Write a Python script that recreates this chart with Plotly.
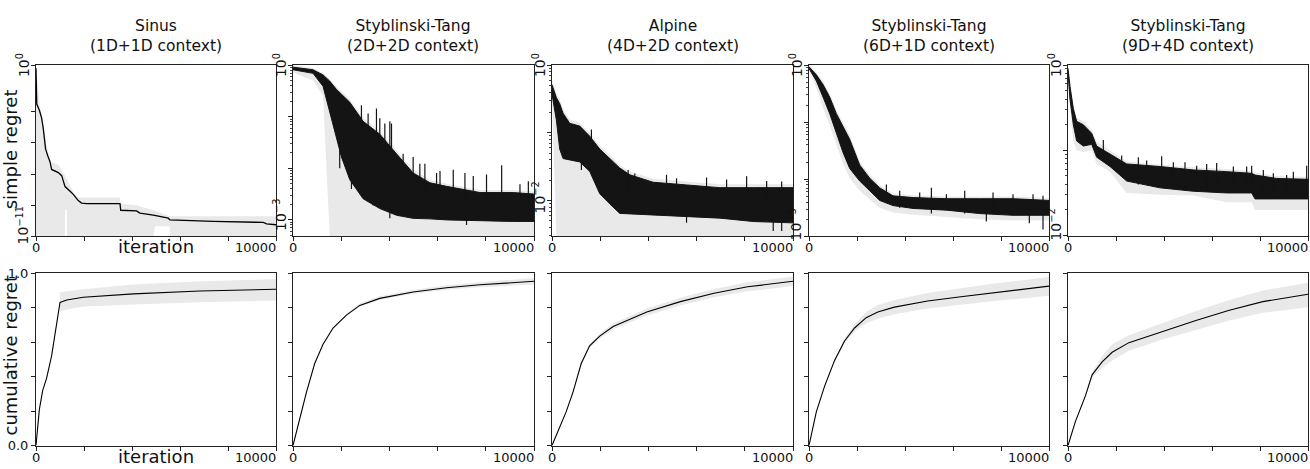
import numpy as np
import plotly.graph_objects as go

titles = ["Sinus<br>(1D+1D context)", "Styblinski-Tang<br>(2D+2D context)", "Alpine<br>(4D+2D context)",
          "Styblinski-Tang<br>(6D+1D context)", "Styblinski-Tang<br>(9D+4D context)"]

# simple regret, stored as log10(regret)
# panel 1: single line + std band
s1_it = [0, 30, 140, 236, 305, 400, 486, 583, 650, 930, 1070, 1210, 1420, 1555, 1760, 1900, 2110, 3500, 3530,
         4190, 4330, 4890, 5510, 5580, 7390, 9470, 9610, 10000]
s1_val = [-0.2, -2.5, -2.9, -3.4, -4.1, -5.4, -5.8, -6.2, -6.7, -6.9, -7.1, -7.8, -8.1, -8.3, -8.7, -8.86, -8.9,
          -8.9, -9.32, -9.36, -9.5, -9.63, -9.83, -9.94, -10.04, -10.1, -10.19, -10.25]
g1_it = [0, 140, 400, 583, 930, 1200, 1210, 1280, 1290, 1560, 1760, 3500, 3530, 4190, 4890, 4960, 5570, 5580, 7390, 10000]
g1_hi = [0, -2.4, -4.8, -6.2, -6.4, -7.0, -7.1, -7.3, -7.3, -8.2, -8.5, -8.5, -8.9, -9.0, -9.3, -9.35, -9.7, -9.7, -9.7, -9.7]
g1_lo = [-11, -11, -11, -11, -11, -11, -9.3, -9.3, -11, -11, -11, -11, -11, -11, -11, -10.35, -10.35, -11, -11, -11]

# panels 2-5: envelope of the noisy mean line (hi/lo), std band (ghi/glo), single spikes (top/base)
it2 = [0, 831, 1246, 1523, 1800, 2010, 2356, 2909, 3602, 4295, 4985, 5680, 6373, 7757, 9140, 10000]
hi2 = [-0.04, -0.09, -0.19, -0.31, -0.47, -0.56, -0.72, -1.09, -1.34, -1.72, -2.09, -2.28, -2.35, -2.47, -2.47, -2.5]
lo2 = [-0.09, -0.16, -0.41, -0.91, -1.41, -1.78, -2.22, -2.59, -2.78, -2.91, -2.97, -2.98, -3.0, -3.02, -3.03, -3.03]
ghi2 = [0, -0.06, -0.15, -0.27, -0.42, -0.5, -0.66, -1.02, -1.28, -1.66, -2.03, -2.22, -2.3, -2.42, -2.42, -2.45]
glo2 = [-0.15, -0.3, -0.6, -3.32, -3.32, -3.32, -3.32, -3.32, -3.32, -3.32, -3.32, -3.32, -3.32, -3.32, -3.32, -3.32]
sp2_it = [2840, 3117, 3463, 3602, 3810, 4018, 4087, 4570, 4985, 5263, 5472, 5957, 6100, 6650, 7134, 7480, 8030,
          8658, 9418, 9765, 1938, 2425, 3325, 4018, 7200]
sp2_top = [-0.78, -0.94, -0.84, -1.03, -1.13, -1.09, -1.13, -1.72, -1.78, -1.91, -1.91, -2.09, -2.05, -2.03, -2.09,
           -2.15, -2.12, -1.94, -2.31, -2.25, -1.5, -2.0, -2.5, -2.8, -2.9]
sp2_base = [-1.3, -1.4, -1.5, -1.5, -1.7, -1.9, -1.9, -2.2, -2.3, -2.4, -2.5, -2.6, -2.6, -2.7, -2.7, -2.7, -2.7,
            -2.7, -2.7, -2.7, -2.0, -2.4, -2.72, -2.97, -3.1]

it3 = [0, 181, 320, 458, 735, 1150, 1566, 1981, 2397, 2812, 3228, 4197, 5582, 6967, 8352, 10000]
hi3 = [-0.29, -0.48, -0.57, -0.71, -0.86, -0.9, -1.05, -1.24, -1.38, -1.52, -1.62, -1.73, -1.77, -1.81, -1.81, -1.81]
lo3 = [-0.43, -0.81, -1.24, -1.38, -1.40, -1.43, -1.57, -1.9, -2.05, -2.19, -2.2, -2.21, -2.24, -2.26, -2.31, -2.33]
ghi3 = [-0.22, -0.42, -0.51, -0.65, -0.8, -0.85, -1.0, -1.19, -1.33, -1.47, -1.57, -1.68, -1.72, -1.76, -1.76, -1.76]
glo3 = [-0.5, -2.53, -2.53, -2.53, -2.53, -2.53, -2.53, -2.53, -2.53, -2.53, -2.53, -2.53, -2.53, -2.53, -2.53, -2.53]
sp3_it = [1635, 3158, 3435, 4752, 5168, 6413, 7245, 8075, 8907, 9530, 1220, 5582, 9180]
sp3_top = [-0.95, -1.55, -1.6, -1.62, -1.67, -1.66, -1.69, -1.64, -1.71, -1.72, -1.3, -2.0, -2.1]
sp3_base = [-1.4, -1.9, -2.0, -2.0, -2.0, -2.0, -2.0, -2.0, -2.0, -2.45, -1.55, -2.33, -2.45]

it4 = [0, 307, 584, 862, 1140, 1417, 1696, 2113, 2529, 2946, 3500, 4335, 5725, 7113, 8500, 10000]
hi4 = [-0.03, -0.17, -0.34, -0.56, -0.85, -1.07, -1.3, -1.75, -1.98, -2.15, -2.29, -2.32, -2.34, -2.34, -2.34, -2.37]
lo4 = [-0.06, -0.28, -0.56, -0.85, -1.19, -1.53, -1.81, -2.03, -2.2, -2.37, -2.46, -2.51, -2.54, -2.6, -2.63, -2.63]
ghi4 = [0, -0.12, -0.28, -0.5, -0.78, -1.0, -1.22, -1.68, -1.92, -2.1, -2.25, -2.28, -2.3, -2.3, -2.3, -2.33]
glo4 = [-0.1, -0.4, -0.75, -1.05, -1.4, -1.72, -1.98, -2.2, -2.35, -2.5, -2.58, -2.62, -2.66, -2.7, -2.72, -2.72]
sp4_it = [3224, 3780, 4612, 5099, 5725, 6488, 7668, 8500, 9335, 9750, 7390, 9180]
sp4_top = [-2.09, -2.2, -2.23, -2.15, -2.26, -2.2, -2.23, -2.26, -2.26, -2.29, -2.5, -2.5]
sp4_base = [-2.4, -2.5, -2.5, -2.6, -2.5, -2.6, -2.6, -2.6, -2.6, -2.88, -2.74, -2.77]

it5 = [0, 83, 222, 361, 639, 986, 1194, 1750, 2444, 3833, 5222, 6611, 7653, 7792, 8694, 10000]
hi5 = [-0.04, -0.25, -0.51, -0.66, -0.70, -0.8, -0.95, -1.04, -1.16, -1.19, -1.23, -1.25, -1.27, -1.29, -1.33, -1.34]
lo5 = [-0.09, -0.4, -0.7, -0.89, -0.95, -0.93, -1.08, -1.19, -1.36, -1.44, -1.48, -1.5, -1.5, -1.57, -1.57, -1.57]
ghi5 = [0, -0.2, -0.46, -0.62, -0.66, -0.76, -0.9, -1.0, -1.13, -1.17, -1.2, -1.22, -1.24, -1.26, -1.3, -1.31]
glo5 = [-0.17, -0.51, -0.89, -1.0, -1.02, -1.0, -1.16, -1.25, -1.5, -1.52, -1.53, -1.61, -1.61, -1.70, -1.70, -1.70]
sp5_it = [1472, 2236, 2931, 3278, 3903, 4389, 4875, 5361, 5778, 6194, 6889, 7444, 7653, 8139, 8556, 9111, 9389, 9944]
sp5_top = [-0.88, -1.06, -1.08, -1.12, -1.07, -1.14, -1.14, -1.18, -1.16, -1.15, -1.19, -1.19, -1.18, -1.23, -1.27,
           -1.29, -1.25, -1.18]
sp5_base = [-1.1, -1.3, -1.4, -1.4, -1.4, -1.45, -1.45, -1.45, -1.45, -1.45, -1.45, -1.45, -1.45, -1.5, -1.5, -1.5,
            -1.5, -1.5]

# y range (log10) and tick decades of each simple-regret panel
ylow = [-11, -3.32, -2.53, -3.0, -2.01]
ydecades = [[0, -3, -5, -7, -9, -11], [0, -1, -2, -3], [0, -1, -2], [0, -1, -2, -3], [0, -1, -2]]
ylab_low = [-11, -3, -2, -3, -2]

# cumulative regret (normalised)
c1_it = [0, 140, 280, 440, 650, 790, 1000, 1280, 1970, 4060, 6830, 10000]
c1 = [0, 0.21, 0.32, 0.39, 0.52, 0.64, 0.83, 0.845, 0.86, 0.88, 0.897, 0.907]
b1_it = [1000, 1280, 1970, 4060, 6830, 10000]
b1_hi = [0.888, 0.895, 0.907, 0.935, 0.953, 0.966]
b1_lo = [0.776, 0.79, 0.807, 0.819, 0.832, 0.841]

c2_it = [0, 277, 554, 900, 1247, 1662, 2216, 2770, 3600, 4986, 6371, 7756, 10000]
c2 = [0, 0.157, 0.307, 0.476, 0.588, 0.682, 0.757, 0.813, 0.854, 0.891, 0.916, 0.933, 0.953]
c2_hi = [0, 0.16, 0.31, 0.48, 0.59, 0.687, 0.762, 0.825, 0.866, 0.903, 0.93, 0.948, 0.972]
c2_lo = [0, 0.154, 0.304, 0.472, 0.585, 0.678, 0.752, 0.805, 0.845, 0.881, 0.904, 0.919, 0.935]

c3_it = [0, 307, 586, 865, 1213, 1562, 1980, 2538, 3933, 5328, 6722, 8117, 10000]
c3 = [0, 0.101, 0.195, 0.307, 0.476, 0.579, 0.635, 0.691, 0.775, 0.835, 0.884, 0.921, 0.953]
c3_hi = [0, 0.104, 0.2, 0.315, 0.486, 0.591, 0.65, 0.708, 0.795, 0.857, 0.908, 0.947, 0.981]
c3_lo = [0, 0.098, 0.19, 0.299, 0.466, 0.567, 0.62, 0.674, 0.755, 0.813, 0.86, 0.895, 0.925]

c4_it = [0, 305, 651, 1066, 1482, 1898, 2382, 2867, 3560, 4945, 6330, 7715, 10000]
c4 = [0, 0.195, 0.345, 0.494, 0.607, 0.682, 0.742, 0.775, 0.803, 0.839, 0.863, 0.888, 0.925]
c4_hi = [0, 0.2, 0.352, 0.505, 0.622, 0.705, 0.775, 0.815, 0.845, 0.885, 0.912, 0.94, 0.978]
c4_lo = [0, 0.19, 0.338, 0.483, 0.592, 0.66, 0.71, 0.735, 0.762, 0.795, 0.815, 0.838, 0.869]

c5_it = [0, 307, 725, 1004, 1423, 1841, 2538, 3933, 5328, 6722, 8117, 10000]
c5 = [0, 0.139, 0.288, 0.41, 0.485, 0.541, 0.597, 0.663, 0.725, 0.785, 0.835, 0.878]
c5_hi = [0, 0.142, 0.295, 0.425, 0.52, 0.588, 0.64, 0.71, 0.78, 0.845, 0.9, 0.944]
c5_lo = [0, 0.136, 0.28, 0.395, 0.45, 0.494, 0.55, 0.615, 0.67, 0.725, 0.77, 0.803]

xticks = [0, 2000, 4000, 6000, 8000, 10000]
yticks_cum = [0, 0.2, 0.4, 0.6, 0.8, 1.0]

W, H = 1310, 469
left_px = [36, 293, 552, 809, 1068]
right_px = [276, 534, 793, 1049, 1308]
GRAY = "#e9e9e9"
DARK = "#141414"
FONT = "DejaVu Sans"
TICK = 13

fig = go.Figure()


def ax(k):
    return ("x" if k == 1 else f"x{k}"), ("y" if k == 1 else f"y{k}")


def band(it, hi, lo, k, color, log=True, lw=0):
    xs = list(it) + list(it)[::-1]
    ys = list(hi) + list(lo)[::-1]
    if log:
        ys = list(np.power(10.0, ys))
    xa, ya = ax(k)
    fig.add_trace(go.Scatter(x=xs, y=ys, fill="toself", fillcolor=color, mode="lines",
                             line=dict(color=color, width=lw), xaxis=xa, yaxis=ya, hoverinfo="skip"))


def spikes(it, top, base, k):
    xs, ys = [], []
    for a, t, b in zip(it, top, base):
        xs += [a, a, None]
        ys += [10 ** t, 10 ** b, None]
    xa, ya = ax(k)
    fig.add_trace(go.Scatter(x=xs, y=ys, mode="lines", line=dict(color=DARK, width=1.2),
                             xaxis=xa, yaxis=ya, hoverinfo="skip"))


# top row
band(g1_it, g1_hi, g1_lo, 1, GRAY)
fig.add_trace(go.Scatter(x=s1_it, y=np.power(10.0, s1_val), mode="lines", line=dict(color="black", width=1.3),
                         xaxis="x", yaxis="y"))
panels = [(it2, hi2, lo2, ghi2, glo2, sp2_it, sp2_top, sp2_base),
          (it3, hi3, lo3, ghi3, glo3, sp3_it, sp3_top, sp3_base),
          (it4, hi4, lo4, ghi4, glo4, sp4_it, sp4_top, sp4_base),
          (it5, hi5, lo5, ghi5, glo5, sp5_it, sp5_top, sp5_base)]
for n, (it, hi, lo, ghi, glo, si, st, sb) in enumerate(panels):
    k = n + 2
    band(it, ghi, glo, k, GRAY)
    band(it, hi, lo, k, DARK, lw=1)
    spikes(si, st, sb, k)

# bottom row
cums = [(c1_it, c1, b1_it, b1_hi, b1_lo), (c2_it, c2, c2_it, c2_hi, c2_lo), (c3_it, c3, c3_it, c3_hi, c3_lo),
        (c4_it, c4, c4_it, c4_hi, c4_lo), (c5_it, c5, c5_it, c5_hi, c5_lo)]
for n, (it, v, bit, bhi, blo) in enumerate(cums):
    k = n + 6
    band(bit, bhi, blo, k, GRAY, log=False)
    xa, ya = ax(k)
    fig.add_trace(go.Scatter(x=it, y=v, mode="lines", line=dict(color="black", width=1.1), xaxis=xa, yaxis=ya))

common = dict(showline=True, linecolor="#222", linewidth=1, mirror=True, showgrid=False, zeroline=False,
              ticks="outside", ticklen=4, tickcolor="#222")
layout = {}
annotations = []
for i in range(5):
    dx = [left_px[i] / W, right_px[i] / W]
    for row in range(2):
        k = i + 1 + 5 * row
        ydom = [1 - 237 / H, 1 - 60 / H] if row == 0 else [1 - 453 / H, 1 - 275 / H]
        xa, ya = ax(k)
        layout["xaxis" if k == 1 else f"xaxis{k}"] = dict(
            domain=dx, range=[0, 10000], tickvals=xticks, showticklabels=False, anchor=ya, **common)
        if row == 0:
            yd = dict(domain=ydom, type="log", range=[ylow[i], 0], tickvals=[10 ** d for d in ydecades[i]],
                      showticklabels=False, anchor=xa, **common)
            if i > 0:
                yd["minor"] = dict(ticks="outside", ticklen=2, tickcolor="#444", dtick="D1", showgrid=False)
        elif i == 0:
            yd = dict(domain=ydom, range=[0, 1], tickvals=yticks_cum, anchor=xa,
                      ticktext=["0.0", "", "", "", "", "1.0"], tickfont=dict(size=TICK, color="#111"), **common)
        else:
            yd = dict(domain=ydom, range=[0, 1], tickvals=yticks_cum, anchor=xa, showticklabels=False, **common)
        layout["yaxis" if k == 1 else f"yaxis{k}"] = yd
        # x tick labels
        annotations.append(dict(text="0", xref=xa, x=0, xanchor="center", yref=f"{ya} domain", y=0,
                                yanchor="top", yshift=-2, showarrow=False, font=dict(size=TICK)))
        annotations.append(dict(text="10000", xref=xa, x=10000, xanchor="right", xshift=2, yref=f"{ya} domain",
                                y=0, yanchor="top", yshift=-2, showarrow=False, font=dict(size=TICK)))
    # panel title
    annotations.append(dict(text=titles[i], x=(left_px[i] + right_px[i]) / 2 / W, xref="paper", xanchor="center",
                            y=1 - 52 / H, yref="paper", yanchor="bottom", showarrow=False,
                            font=dict(size=15.5)))
    # rotated y tick labels of the log panels
    xa, ya = ax(i + 1)
    yshift_low = [11, 5, 3, 12, 11]
    annotations.append(dict(text="10<sup>0</sup>", textangle=-90, xref=f"{xa} domain", x=0, xanchor="right",
                            xshift=-2, yref=ya, y=0, yanchor="middle", showarrow=False, font=dict(size=14)))
    annotations.append(dict(text=f"10<sup>\u2212{-ylab_low[i]}</sup>", textangle=-90, xref=f"{xa} domain", x=0,
                            xanchor="right", xshift=-2, yref=ya, y=ylab_low[i], yanchor="middle",
                            yshift=yshift_low[i], showarrow=False, font=dict(size=14)))

# axis titles
annotations.append(dict(text="simple regret", textangle=-90, x=10 / W, y=1 - 147 / H, xref="paper", yref="paper",
                        xanchor="center", yanchor="middle", showarrow=False, font=dict(size=18)))
annotations.append(dict(text="cumulative regret", textangle=-90, x=10 / W, y=1 - 360 / H, xref="paper",
                        yref="paper", xanchor="center", yanchor="middle", showarrow=False, font=dict(size=18)))
annotations.append(dict(text="iteration", x=156 / W, y=1 - 247 / H, xref="paper", yref="paper", xanchor="center",
                        yanchor="middle", showarrow=False, font=dict(size=18)))
annotations.append(dict(text="iteration", x=156 / W, y=1 - 464 / H, xref="paper", yref="paper", xanchor="center",
                        yanchor="middle", showarrow=False, font=dict(size=18)))

fig.update_layout(width=W, height=H, margin=dict(l=0, r=0, t=0, b=0), showlegend=False,
                  plot_bgcolor="white", paper_bgcolor="white", font=dict(family=FONT, color="#111"),
                  annotations=annotations, **layout)
fig.write_html("out.html", config={"displayModeBar": False},
               post_script="document.body.style.margin='0px';")
